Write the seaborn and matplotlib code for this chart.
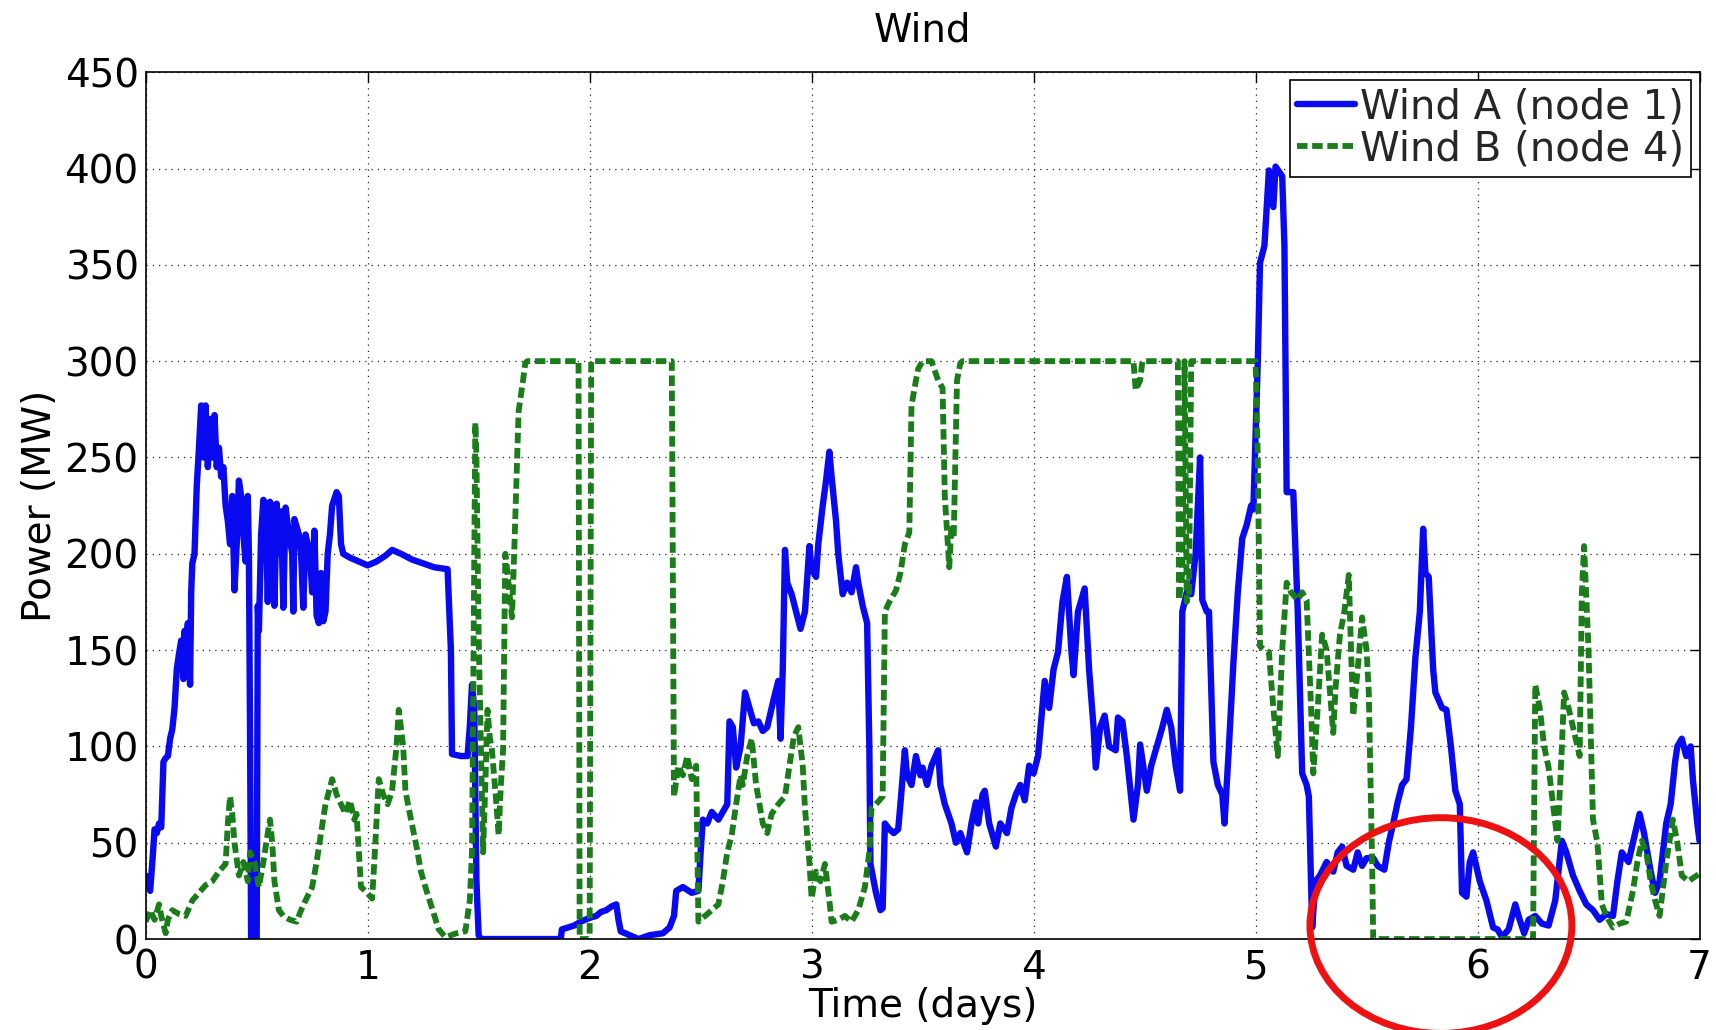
import matplotlib
matplotlib.use("Agg")
import matplotlib.pyplot as plt
from matplotlib.patches import Ellipse
import seaborn as sns

# Wind A (node 1): time in days, power in MW
wind_a_t = [0.00, 0.01, 0.02, 0.03, 0.04, 0.05, 0.06, 0.07, 0.08, 0.09, 0.10, 0.11, 0.12, 0.13, 0.14, 0.15,
            0.16, 0.17, 0.175, 0.18, 0.19, 0.20, 0.205, 0.21, 0.22, 0.23, 0.24, 0.25, 0.26, 0.27, 0.28, 0.29,
            0.30, 0.31, 0.32, 0.33, 0.34, 0.35, 0.36, 0.37, 0.38, 0.39, 0.40, 0.41, 0.42, 0.43, 0.44, 0.45,
            0.46, 0.465, 0.47, 0.475, 0.49, 0.50, 0.505, 0.51, 0.52, 0.53, 0.54, 0.55, 0.56, 0.57, 0.58, 0.59,
            0.60, 0.61, 0.62, 0.63, 0.64, 0.66, 0.665, 0.67, 0.69, 0.70, 0.71, 0.72, 0.74, 0.75, 0.76, 0.77,
            0.78, 0.79, 0.80, 0.81, 0.82, 0.83, 0.84, 0.86, 0.87, 0.88, 0.89, 0.92, 0.96, 1.00, 1.04, 1.08,
            1.11, 1.15, 1.20, 1.25, 1.30, 1.36, 1.375, 1.38, 1.42, 1.45, 1.46, 1.47, 1.48, 1.49, 1.50, 1.51,
            1.87, 1.875, 1.93, 1.96, 2.00, 2.03, 2.05, 2.075, 2.10, 2.12, 2.13, 2.14, 2.18, 2.22, 2.27, 2.33,
            2.36, 2.38, 2.39, 2.42, 2.46, 2.49, 2.50, 2.51, 2.53, 2.55, 2.58, 2.60, 2.62, 2.63, 2.645, 2.66,
            2.68, 2.70, 2.72, 2.74, 2.76, 2.78, 2.80, 2.83, 2.85, 2.86, 2.87, 2.88, 2.89, 2.91, 2.93, 2.95,
            2.97, 2.99, 3.00, 3.02, 3.03, 3.05, 3.065, 3.08, 3.09, 3.11, 3.12, 3.14, 3.16, 3.18, 3.20, 3.21,
            3.23, 3.25, 3.26, 3.265, 3.28, 3.29, 3.31, 3.32, 3.33, 3.35, 3.37, 3.39, 3.40, 3.42, 3.43, 3.45,
            3.47, 3.49, 3.50, 3.52, 3.54, 3.57, 3.58, 3.60, 3.63, 3.65, 3.67, 3.70, 3.72, 3.74, 3.75, 3.77,
            3.78, 3.80, 3.83, 3.85, 3.88, 3.90, 3.92, 3.94, 3.96, 3.98, 4.00, 4.02, 4.05, 4.07, 4.09, 4.11,
            4.13, 4.15, 4.17, 4.18, 4.20, 4.23, 4.25, 4.27, 4.28, 4.30, 4.32, 4.34, 4.37, 4.38, 4.40, 4.42,
            4.45, 4.47, 4.48, 4.50, 4.51, 4.53, 4.55, 4.58, 4.60, 4.62, 4.64, 4.66, 4.67, 4.69, 4.71, 4.73,
            4.75, 4.76, 4.78, 4.79, 4.81, 4.83, 4.85, 4.86, 4.88, 4.90, 4.92, 4.94, 4.96, 4.98, 4.99, 5.01,
            5.02, 5.04, 5.06, 5.08, 5.09, 5.12, 5.13, 5.14, 5.17, 5.19, 5.21, 5.23, 5.24, 5.255, 5.27, 5.29,
            5.32, 5.35, 5.37, 5.39, 5.41, 5.44, 5.46, 5.48, 5.50, 5.53, 5.55, 5.58, 5.60, 5.62, 5.64, 5.66,
            5.68, 5.70, 5.72, 5.74, 5.755, 5.765, 5.78, 5.80, 5.81, 5.84, 5.86, 5.88, 5.90, 5.92, 5.93, 5.95,
            5.965, 5.98, 6.00, 6.01, 6.04, 6.07, 6.09, 6.11, 6.14, 6.17, 6.19, 6.21, 6.23, 6.26, 6.29, 6.32,
            6.35, 6.38, 6.40, 6.43, 6.46, 6.49, 6.52, 6.55, 6.58, 6.61, 6.63, 6.65, 6.68, 6.71, 6.73, 6.75,
            6.78, 6.80, 6.82, 6.85, 6.87, 6.89, 6.90, 6.92, 6.94, 6.96, 6.97, 6.99, 7.00]
wind_a_mw = [33, 30, 25, 40, 57, 55, 60, 58, 92, 94, 95, 104, 109, 120, 140, 148,
             155, 135, 160, 150, 164, 132, 180, 195, 200, 235, 255, 277, 250, 277, 245, 270,
             250, 272, 245, 255, 240, 245, 225, 217, 205, 230, 181, 205, 238, 230, 210, 196,
             230, 200, 110, 0, 0, 0, 173, 160, 210, 228, 226, 175, 227, 224, 173, 226,
             200, 222, 172, 224, 215, 200, 170, 218, 210, 200, 172, 210, 200, 180, 212, 168,
             164, 190, 165, 170, 200, 210, 225, 232, 230, 205, 200, 198, 196, 194, 196, 199,
             202, 200, 197, 195, 193, 192, 150, 96, 95, 95, 110, 132, 120, 30, 2, 0,
             0, 5, 7, 9, 11, 12, 14, 15, 17, 18, 10, 4, 2, 0, 2, 3,
             6, 12, 25, 27, 24, 25, 45, 62, 60, 66, 62, 66, 70, 113, 110, 89,
             100, 128, 120, 112, 113, 108, 110, 125, 134, 104, 140, 202, 185, 179, 170, 161,
             170, 204, 192, 188, 205, 225, 238, 253, 240, 217, 200, 179, 185, 180, 193, 185,
             173, 164, 100, 39, 30, 24, 15, 16, 60, 57, 55, 57, 70, 98, 85, 80,
             95, 85, 89, 80, 90, 98, 80, 70, 60, 50, 55, 45, 60, 71, 60, 75,
             77, 60, 48, 60, 55, 68, 75, 80, 72, 90, 86, 95, 134, 120, 140, 149,
             175, 188, 150, 137, 170, 182, 140, 110, 89, 110, 116, 100, 98, 115, 113, 95,
             62, 80, 101, 85, 77, 90, 98, 110, 119, 110, 90, 77, 170, 180, 179, 200,
             250, 176, 170, 170, 92, 80, 75, 60, 100, 143, 180, 208, 215, 225, 223, 300,
             351, 360, 399, 380, 401, 396, 360, 232, 232, 170, 86, 80, 74, 6, 30, 33,
             40, 35, 45, 48, 38, 36, 45, 38, 42, 42, 38, 36, 50, 60, 71, 80,
             83, 110, 146, 170, 213, 190, 188, 140, 128, 120, 119, 100, 77, 70, 24, 22,
             40, 45, 35, 30, 20, 6, 5, 1, 5, 18, 10, 3, 10, 12, 8, 7,
             20, 51, 45, 33, 25, 18, 15, 10, 13, 12, 30, 45, 40, 55, 65, 55,
             35, 24, 30, 60, 70, 92, 100, 104, 95, 100, 83, 60, 51]

# Wind B (node 4): time in days, power in MW (capped at 300 MW)
wind_b_t = [0.00, 0.02, 0.04, 0.06, 0.07, 0.09, 0.10, 0.12, 0.15, 0.18, 0.21, 0.24, 0.27, 0.30, 0.33, 0.36,
            0.37, 0.38, 0.39, 0.40, 0.42, 0.44, 0.46, 0.47, 0.49, 0.51, 0.53, 0.55, 0.56, 0.57, 0.58, 0.60,
            0.62, 0.65, 0.68, 0.70, 0.72, 0.75, 0.77, 0.79, 0.81, 0.84, 0.86, 0.88, 0.90, 0.92, 0.94, 0.95,
            0.97, 0.99, 1.02, 1.03, 1.05, 1.07, 1.09, 1.11, 1.13, 1.14, 1.16, 1.17, 1.19, 1.22, 1.24, 1.26,
            1.29, 1.32, 1.35, 1.40, 1.44, 1.46, 1.47, 1.485, 1.49, 1.50, 1.51, 1.52, 1.53, 1.54, 1.55, 1.56,
            1.58, 1.59, 1.60, 1.61, 1.62, 1.63, 1.65, 1.66, 1.68, 1.70, 1.71, 1.72, 1.95, 1.955, 2.00, 2.007,
            2.37, 2.38, 2.40, 2.42, 2.44, 2.46, 2.48, 2.49, 2.52, 2.55, 2.58, 2.60, 2.62, 2.64, 2.66, 2.68,
            2.69, 2.71, 2.73, 2.75, 2.78, 2.80, 2.82, 2.85, 2.88, 2.90, 2.92, 2.94, 2.96, 2.97, 2.99, 3.00,
            3.02, 3.04, 3.06, 3.08, 3.09, 3.12, 3.15, 3.18, 3.21, 3.24, 3.26, 3.27, 3.29, 3.32, 3.33, 3.35,
            3.38, 3.40, 3.42, 3.44, 3.45, 3.47, 3.48, 3.50, 3.54, 3.57, 3.59, 3.60, 3.62, 3.63, 3.64, 3.655,
            3.67, 3.68, 4.45, 4.46, 4.48, 4.49, 4.65, 4.655, 4.67, 4.68, 4.69, 4.70, 4.71, 5.00, 5.01, 5.02,
            5.04, 5.06, 5.08, 5.10, 5.12, 5.14, 5.16, 5.19, 5.21, 5.23, 5.25, 5.26, 5.28, 5.30, 5.32, 5.35,
            5.36, 5.38, 5.40, 5.42, 5.43, 5.44, 5.46, 5.48, 5.50, 5.51, 5.525, 5.53, 6.25, 6.26, 6.28, 6.30,
            6.32, 6.34, 6.36, 6.38, 6.39, 6.41, 6.43, 6.45, 6.46, 6.47, 6.48, 6.50, 6.52, 6.54, 6.56, 6.58,
            6.61, 6.64, 6.67, 6.70, 6.72, 6.74, 6.76, 6.78, 6.80, 6.82, 6.85, 6.88, 6.90, 6.92, 6.95, 7.00]
wind_b_mw = [9, 15, 10, 18, 12, 3, 10, 15, 13, 12, 20, 24, 28, 30, 35, 39,
             60, 74, 65, 50, 33, 40, 30, 45, 40, 27, 40, 55, 62, 50, 30, 15,
             12, 10, 9, 15, 20, 27, 40, 55, 70, 83, 75, 70, 65, 72, 62, 65,
             27, 25, 21, 40, 83, 75, 70, 77, 100, 119, 100, 77, 65, 48, 35, 27,
             16, 5, 1, 3, 4, 20, 45, 268, 250, 158, 100, 45, 80, 119, 105, 98,
             70, 54, 80, 98, 200, 190, 167, 200, 274, 290, 299, 300, 300, 0, 0, 300,
             300, 74, 90, 85, 95, 83, 90, 9, 12, 15, 18, 30, 45, 54, 70, 85,
             80, 95, 104, 80, 60, 55, 65, 70, 74, 90, 105, 110, 90, 68, 40, 21,
             35, 30, 39, 20, 9, 10, 12, 9, 15, 27, 45, 68, 70, 74, 170, 175,
             181, 190, 205, 211, 277, 290, 296, 300, 300, 290, 286, 230, 193, 215, 208, 290,
             299, 300, 300, 285, 290, 300, 300, 176, 190, 300, 175, 180, 300, 300, 250, 152,
             150, 149, 120, 95, 150, 185, 180, 176, 180, 176, 120, 86, 120, 158, 150, 107,
             130, 158, 170, 189, 150, 116, 140, 167, 150, 128, 40, 0, 0, 132, 120, 100,
             89, 70, 51, 100, 128, 120, 110, 100, 95, 180, 204, 150, 62, 50, 18, 12,
             6, 8, 9, 25, 40, 51, 45, 30, 20, 12, 40, 62, 50, 33, 30, 34]

x_ticks = [0, 1, 2, 3, 4, 5, 6, 7]
y_ticks = [0, 50, 100, 150, 200, 250, 300, 350, 400, 450]

sns.set_theme(style="white")
plt.rcParams["font.family"] = ["DejaVu Sans"]

fig = plt.figure(figsize=(17.16, 10.30), dpi=100)
ax = fig.add_axes([0.0849, 0.0883, 0.9055, 0.8416])

sns.lineplot(x=wind_a_t, y=wind_a_mw, ax=ax, estimator=None, sort=False,
             color="#0a0af0", linewidth=4.6, label="Wind A (node 1)")
sns.lineplot(x=wind_b_t, y=wind_b_mw, ax=ax, estimator=None, sort=False,
             color="#1a7d1a", linewidth=4.2, label="Wind B (node 4)")
ax.lines[1].set_dashes([1.8, 0.8])

ax.set_xlim(0, 7)
ax.set_ylim(0, 450)
ax.set_xticks(x_ticks)
ax.set_yticks(y_ticks)
ax.tick_params(axis="both", direction="in", length=7, width=1, top=True, right=True,
               labelsize=28, colors="black")
ax.tick_params(axis="x", pad=7)
ax.tick_params(axis="y", pad=5)
ax.grid(True, linestyle=(0, (1, 4)), color="#222222", linewidth=0.9)
for sp in ax.spines.values():
    sp.set_color("black")
    sp.set_linewidth(1.2)

ax.set_title("Wind", fontsize=28, pad=22, color="black")
ax.set_xlabel("Time (days)", fontsize=28, labelpad=0, color="black")
ax.set_ylabel("Power (MW)", fontsize=28, labelpad=4, color="black")

leg = ax.legend(loc="upper right", fontsize=29, frameon=True, fancybox=False,
                edgecolor="black", framealpha=1, handlelength=1.45, handletextpad=0.12,
                borderpad=0.18, labelspacing=0.05, borderaxespad=0.2)
leg.get_frame().set_linewidth(1.2)

# red ellipse highlighting the zero-output stretch of Wind B
ax.add_patch(Ellipse((5.835, 7), width=1.18, height=112, fill=False,
                     edgecolor="#ee1111", linewidth=5, clip_on=False, zorder=10))

fig.savefig("out.png", dpi=100, facecolor="white")
